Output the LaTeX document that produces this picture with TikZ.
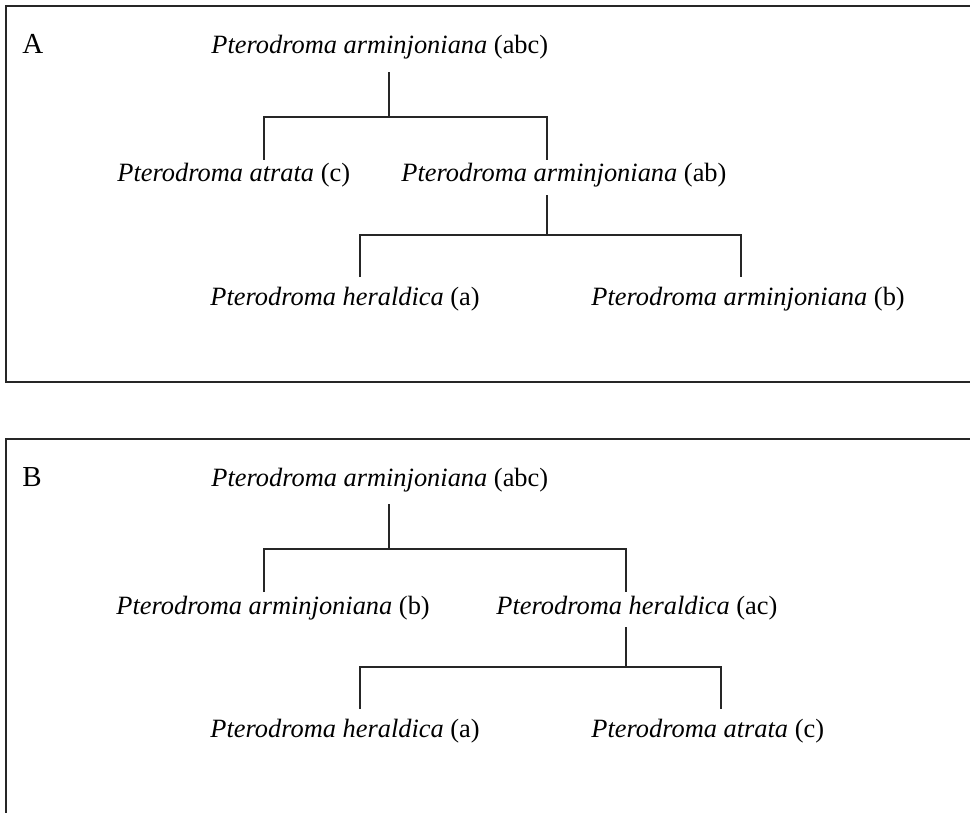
\documentclass[tikz,border=0pt]{standalone}
\usepackage{fontspec}
\setmainfont{Liberation Serif}
\newcommand{\taxfont}{\fontsize{13.2}{15}\selectfont}
\newcommand{\ptero}[1]{\textit{Pterodroma #1}}

\begin{document}
\begin{tikzpicture}[
    x=0.5pt, y=-0.5pt,
    taxon/.style={anchor=base west, inner sep=0pt, font=\taxfont},
    panel/.style={line width=1.3pt, black!85},
    branch/.style={line width=0.9pt, black!85}
]
\useasboundingbox (0,0) rectangle (970,813);
\clip (0,0) rectangle (970,813);

% panel A
\draw[panel] (1000,6) -| (6,382) -- (1000,382);
\node[taxon, font=\fontsize{14.5}{16}\selectfont] (labA) at (22,54) {A};
\node[taxon] (rootA) at (211,54) {\ptero{arminjoniana} (abc)};
\node[taxon] (atrA)  at (117,182) {\ptero{atrata} (c)};
\node[taxon] (abA)   at (401,182) {\ptero{arminjoniana} (ab)};
\node[taxon] (herA)  at (210,305) {\ptero{heraldica} (a)};
\node[taxon] (armA)  at (591,305) {\ptero{arminjoniana} (b)};

\coordinate (jA)  at (389,117);
\coordinate (tA1) at (264,160);
\coordinate (tA2) at (547,160);
\coordinate (jAb) at (547,235);
\coordinate (tA3) at (360,277);
\coordinate (tA4) at (741,277);

\draw[branch] (rootA.south -| jA) ++(0,12) -- (jA);
\draw[branch] (tA1) |- (jA) -| (tA2);
\draw[branch] (abA.south -| jAb) ++(0,7) -- (jAb);
\draw[branch] (tA3) |- (jAb) -| (tA4);

% panel B
\draw[panel] (1000,439) -| (6,900);
\node[taxon, font=\fontsize{14.5}{16}\selectfont] (labB) at (22,486) {B};
\node[taxon] (rootB) at (211,486) {\ptero{arminjoniana} (abc)};
\node[taxon] (armB)  at (116,614) {\ptero{arminjoniana} (b)};
\node[taxon] (acB)   at (496,614) {\ptero{heraldica} (ac)};
\node[taxon] (herB)  at (210,737) {\ptero{heraldica} (a)};
\node[taxon] (atrB)  at (591,737) {\ptero{atrata} (c)};

\coordinate (jB)  at (389,549);
\coordinate (tB1) at (264,592);
\coordinate (tB2) at (626,592);
\coordinate (jBb) at (626,667);
\coordinate (tB3) at (360,709);
\coordinate (tB4) at (721,709);

\draw[branch] (rootB.south -| jB) ++(0,12) -- (jB);
\draw[branch] (tB1) |- (jB) -| (tB2);
\draw[branch] (acB.south -| jBb) ++(0,7) -- (jBb);
\draw[branch] (tB3) |- (jBb) -| (tB4);

\end{tikzpicture}
\end{document}
